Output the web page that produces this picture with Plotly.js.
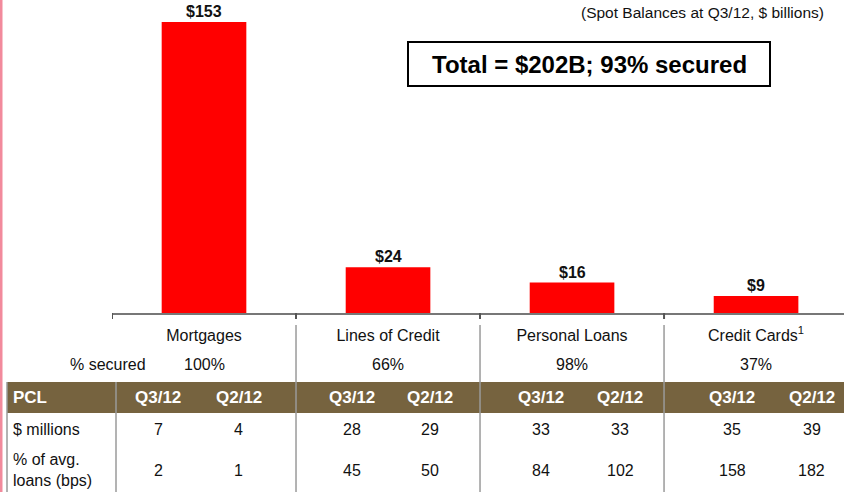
<!DOCTYPE html>
<html lang="en">
<head>
    <meta charset="UTF-8">
    <title>Retail Loan Portfolio</title>
    <script src="https://cdn.plot.ly/plotly-3.0.1.min.js"></script>
    <style>
        body { margin: 0; background: #fff; }
        #chart { width: 844px; height: 492px; }
    </style>
</head>
<body>
    <div id="chart"></div>
    <script>
        // Spot balances, $ billions
        const categories = ['Mortgages', 'Lines of Credit', 'Personal Loans', 'Credit Cards<sup>1</sup>'];
        const balances = [153, 24, 16, 9];
        const pctSecured = ['100%', '66%', '98%', '37%'];

        // PCL table
        const periods = ['Q3/12', 'Q2/12'];
        const pclMillions = [[7, 4], [28, 29], [33, 33], [35, 39]];
        const pclBps = [[2, 1], [45, 50], [84, 102], [158, 182]];

        const W = 844, H = 492;
        const M = { l: 112, r: 0, t: 0, b: 179 };
        // pixel -> paper helpers
        const px = p => (p - M.l) / (W - M.l - M.r);
        const py = p => (H - M.b - p) / (H - M.t - M.b);

        const FONT = 'Liberation Sans, Arial, sans-serif';
        const brown = '#76633f';
        const grey = '#9a9a9a';
        // column offsets (category units) for Q3 / Q2 within each group
        const colOffset = [[-0.25, 0.19], [-0.196, 0.228], [-0.168, 0.261], [-0.13, 0.304]];

        const bars = {
            type: 'bar',
            x: [0, 1, 2, 3],
            y: balances,
            width: 0.46,
            marker: { color: '#ff0000' },
            hoverinfo: 'none'
        };

        const shapes = [];
        const annotations = [];

        // slide edge
        shapes.push({ type: 'line', xref: 'paper', yref: 'paper', x0: px(1), x1: px(1), y0: py(0), y1: py(H),
            line: { color: '#f28a9c', width: 3 } });

        // header band
        shapes.push({ type: 'rect', xref: 'paper', yref: 'paper', x0: px(7), x1: px(W), y0: py(382), y1: py(413),
            fillcolor: brown, line: { width: 0 }, layer: 'below' });

        // group separators
        [0.5, 1.5, 2.5].forEach(b => {
            shapes.push({ type: 'line', xref: 'x', yref: 'paper', x0: b, x1: b, y0: py(325), y1: py(H),
                line: { color: grey, width: 1.5 } });
        });
        // table left border + label column
        [7, 116].forEach(p => {
            shapes.push({ type: 'line', xref: 'paper', yref: 'paper', x0: px(p), x1: px(p), y0: py(382), y1: py(H),
                line: { color: grey, width: 1.5 } });
        });

        // boundary ticks on the axis
        [-0.5, 0.5, 1.5, 2.5].forEach(b => {
            shapes.push({ type: 'line', xref: 'x', yref: 'paper', x0: b, x1: b, y0: py(313), y1: py(319),
                line: { color: '#555', width: 2 } });
        });

        // total box
        shapes.push({ type: 'rect', xref: 'paper', yref: 'paper', x0: px(408), x1: px(770), y0: py(42), y1: py(86),
            line: { color: '#000', width: 2 }, fillcolor: 'rgba(0,0,0,0)' });

        function txt(x, y, text, opts) {
            annotations.push(Object.assign({
                x: x, y: py(y), xref: 'x', yref: 'paper', text: text, showarrow: false,
                xanchor: 'center', yanchor: 'middle',
                font: { family: FONT, size: 16, color: '#111' }
            }, opts || {}));
        }

        // bar value labels
        balances.forEach((v, i) => {
            annotations.push({
                x: i, y: v, xref: 'x', yref: 'y', text: '<b>$' + v + '</b>', showarrow: false,
                xanchor: 'center', yanchor: 'bottom', yshift: 0,
                font: { family: FONT, size: 16, color: '#111' }
            });
        });

        txt(px(826), 13, '(Spot Balances at Q3/12, $ billions)',
            { xref: 'paper', xanchor: 'right', font: { family: FONT, size: 15.5, color: '#111' } });
        txt(px(589), 64, '<b>Total = $202B; 93% secured</b>',
            { xref: 'paper', font: { family: FONT, size: 24, color: '#000' } });

        txt(px(108), 364, '% secured', { xref: 'paper' });
        txt(px(11), 398, '<b>PCL</b>', { xref: 'paper', xanchor: 'left', font: { family: FONT, size: 17, color: '#fff' } });
        txt(px(11), 429, '$ millions', { xref: 'paper', xanchor: 'left' });
        txt(px(11), 470, '% of avg.<br>loans (bps)', { xref: 'paper', xanchor: 'left', align: 'left' });

        categories.forEach((c, i) => {
            txt(i, 364, pctSecured[i]);
            periods.forEach((p, j) => {
                const x = i + colOffset[i][j];
                txt(x, 398, '<b>' + p + '</b>', { font: { family: FONT, size: 17, color: '#fff' } });
                txt(x, 429, String(pclMillions[i][j]));
                txt(x, 470, String(pclBps[i][j]));
            });
        });

        const layout = {
            width: W, height: H,
            margin: M,
            paper_bgcolor: '#fff', plot_bgcolor: '#fff',
            showlegend: false,
            xaxis: {
                type: 'linear',
                range: [-0.5, 3.478],
                tickmode: 'array',
                tickvals: [0, 1, 2, 3],
                ticktext: categories,
                ticklabelstandoff: 7,
                showline: true, linecolor: '#777', linewidth: 2,
                ticks: '', showgrid: false, zeroline: false,
                tickfont: { family: FONT, size: 16, color: '#111' },
                fixedrange: true
            },
            yaxis: { range: [0, 164.6], visible: false, fixedrange: true },
            shapes: shapes,
            annotations: annotations
        };

        Plotly.newPlot('chart', [bars], layout, { displayModeBar: false, staticPlot: true });
    </script>
</body>
</html>
